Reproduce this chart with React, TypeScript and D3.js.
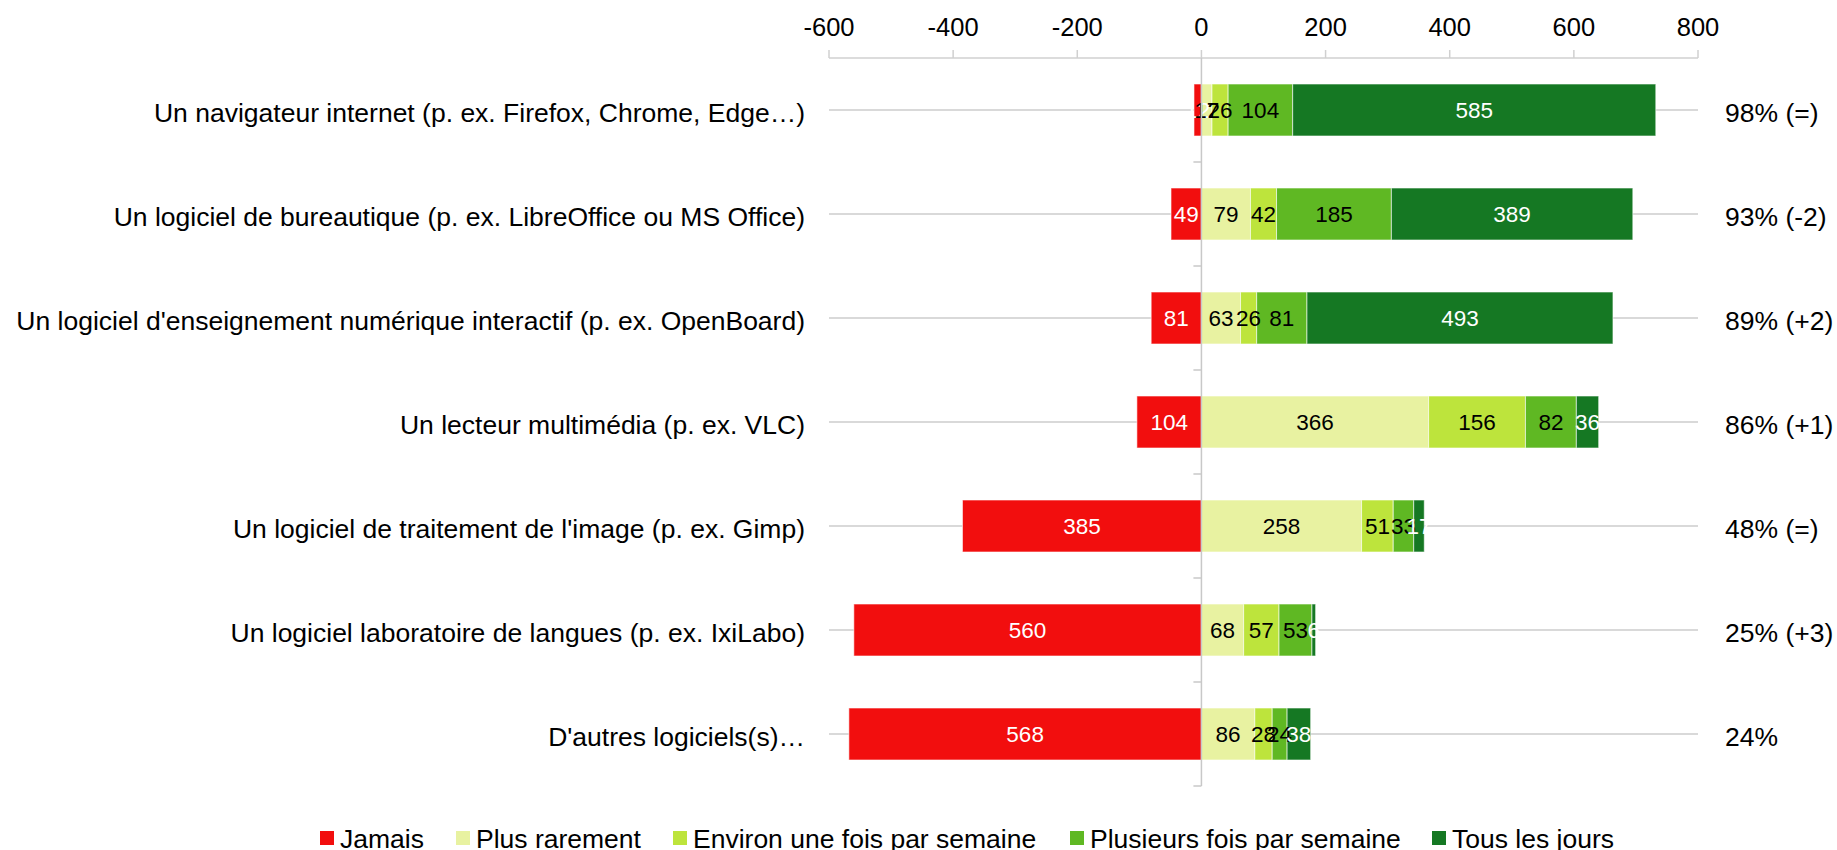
import * as d3 from "d3";
import { useEffect, useRef } from "react";

// categories, top to bottom
const categories = [
  "Un navigateur internet (p. ex. Firefox, Chrome, Edge…)",
  "Un logiciel de bureautique (p. ex. LibreOffice ou MS Office)",
  "Un logiciel d'enseignement numérique interactif (p. ex. OpenBoard)",
  "Un lecteur multimédia (p. ex. VLC)",
  "Un logiciel de traitement de l'image (p. ex. Gimp)",
  "Un logiciel laboratoire de langues (p. ex. IxiLabo)",
  "D'autres logiciels(s)…",
];

const seriesNames = [
  "Jamais",
  "Plus rarement",
  "Environ une fois par semaine",
  "Plusieurs fois par semaine",
  "Tous les jours",
];
const seriesColors = ["#f20e0e", "#e8f2a1", "#bde43c", "#5fb823", "#157823"];
const labelColors = ["#fff", "#000", "#000", "#000", "#fff"];

const jamais = [12, 49, 81, 104, 385, 560, 568];
const rarement = [17, 79, 63, 366, 258, 68, 86];
const hebdo = [26, 42, 26, 156, 51, 57, 28];
const plusieurs = [104, 185, 81, 82, 33, 53, 24];
const quotidien = [585, 389, 493, 36, 17, 6, 38];

const percentLabels = ["98% (=)", "93% (-2)", "89% (+2)", "86% (+1)", "48% (=)", "25% (+3)", "24%"];
const xTicks = [-600, -400, -200, 0, 200, 400, 600, 800];

const legendX = [320, 456, 673, 1070, 1432];

const W = 1837;
const H = 850;
const font = "'Liberation Sans', Arial, sans-serif";

export default function App() {
  const svgRef = useRef<SVGSVGElement>(null);

  useEffect(() => {
    const svg = d3.select(svgRef.current);
    svg.selectAll("*").remove();

    const x = d3.scaleLinear().domain([-600, 800]).range([829, 1698]);
    const y = d3.scaleBand<string>()
      .domain(categories)
      .range([58, 786])
      .paddingInner(0.5)
      .paddingOuter(0.25);
    const step = y.step();

    // horizontal grid lines through each bar
    svg.append("g")
      .selectAll("line")
      .data(categories)
      .enter().append("line")
      .attr("x1", x(-600))
      .attr("x2", x(800))
      .attr("y1", d => y(d)! + y.bandwidth() / 2)
      .attr("y2", d => y(d)! + y.bandwidth() / 2)
      .attr("stroke", "#d9d9d9")
      .attr("stroke-width", 2);

    // top axis
    const axis = svg.append("g");
    axis.append("line")
      .attr("x1", x(-600)).attr("x2", x(800))
      .attr("y1", 58).attr("y2", 58)
      .attr("stroke", "#d0d0d0").attr("stroke-width", 1.5);
    axis.selectAll(".tick")
      .data(xTicks)
      .enter().append("line")
      .attr("x1", d => x(d)).attr("x2", d => x(d))
      .attr("y1", 50).attr("y2", 58)
      .attr("stroke", "#d0d0d0").attr("stroke-width", 1.5);
    axis.selectAll(".tlabel")
      .data(xTicks)
      .enter().append("text")
      .attr("x", d => x(d))
      .attr("y", 27)
      .attr("dy", "0.36em")
      .attr("text-anchor", "middle")
      .style("font-family", font)
      .style("font-size", "25.5px")
      .text(d => d);

    // bars
    const rows = categories.map((c, i) => ({
      cat: c,
      vals: [jamais[i], rarement[i], hebdo[i], plusieurs[i], quotidien[i]],
    }));

    rows.forEach(row => {
      const g = svg.append("g");
      const segs: { x0: number; x1: number; s: number; v: number }[] = [];
      segs.push({ x0: -row.vals[0], x1: 0, s: 0, v: row.vals[0] });
      let acc = 0;
      for (let s = 1; s < 5; s++) {
        segs.push({ x0: acc, x1: acc + row.vals[s], s, v: row.vals[s] });
        acc += row.vals[s];
      }
      g.selectAll("rect")
        .data(segs)
        .enter().append("rect")
        .attr("x", d => x(d.x0))
        .attr("width", d => x(d.x1) - x(d.x0))
        .attr("y", y(row.cat)!)
        .attr("height", y.bandwidth())
        .attr("fill", d => seriesColors[d.s])
        .attr("stroke", "#ffffff")
        .attr("stroke-opacity", 0.6)
        .attr("stroke-width", 1);
      g.selectAll("text")
        .data(segs)
        .enter().append("text")
        .attr("x", d => (x(d.x0) + x(d.x1)) / 2)
        .attr("y", y(row.cat)! + y.bandwidth() / 2)
        .attr("dy", "0.36em")
        .attr("text-anchor", "middle")
        .attr("fill", d => labelColors[d.s])
        .style("font-family", font)
        .style("font-size", "22.5px")
        .text(d => d.v);
    });

    // zero line and category ticks
    svg.append("line")
      .attr("x1", x(0)).attr("x2", x(0))
      .attr("y1", 58).attr("y2", 786)
      .attr("stroke", "#c8c8c8").attr("stroke-width", 1.5);
    svg.append("g")
      .selectAll("line")
      .data(d3.range(1, categories.length + 1))
      .enter().append("line")
      .attr("x1", x(0) - 8).attr("x2", x(0))
      .attr("y1", d => 58 + d * step).attr("y2", d => 58 + d * step)
      .attr("stroke", "#c8c8c8").attr("stroke-width", 1.5);

    // category labels
    svg.append("g")
      .selectAll("text")
      .data(categories)
      .enter().append("text")
      .attr("x", 805)
      .attr("y", d => y(d)! + y.bandwidth() / 2 + 2)
      .attr("dy", "0.36em")
      .attr("text-anchor", "end")
      .style("font-family", font)
      .style("font-size", "26.5px")
      .text(d => d);

    // percentage labels
    svg.append("g")
      .selectAll("text")
      .data(categories)
      .enter().append("text")
      .attr("x", 1725)
      .attr("y", d => y(d)! + y.bandwidth() / 2 + 2)
      .attr("dy", "0.36em")
      .style("font-family", font)
      .style("font-size", "26.5px")
      .text((d, i) => percentLabels[i]);

    // legend
    const legend = svg.append("g");
    const items = legend.selectAll("g")
      .data(seriesNames)
      .enter().append("g")
      .attr("transform", (d, i) => `translate(${legendX[i]}, 838)`);
    items.append("rect")
      .attr("x", 0).attr("y", -7)
      .attr("width", 14).attr("height", 14)
      .attr("fill", (d, i) => seriesColors[i]);
    items.append("text")
      .attr("x", 20)
      .attr("dy", "0.36em")
      .style("font-family", font)
      .style("font-size", "26.5px")
      .text(d => d);
  }, []);

  return (
    <svg ref={svgRef} width={W} height={H} style={{ position: "absolute", left: 0, top: 0, background: "#fff" }} />
  );
}
